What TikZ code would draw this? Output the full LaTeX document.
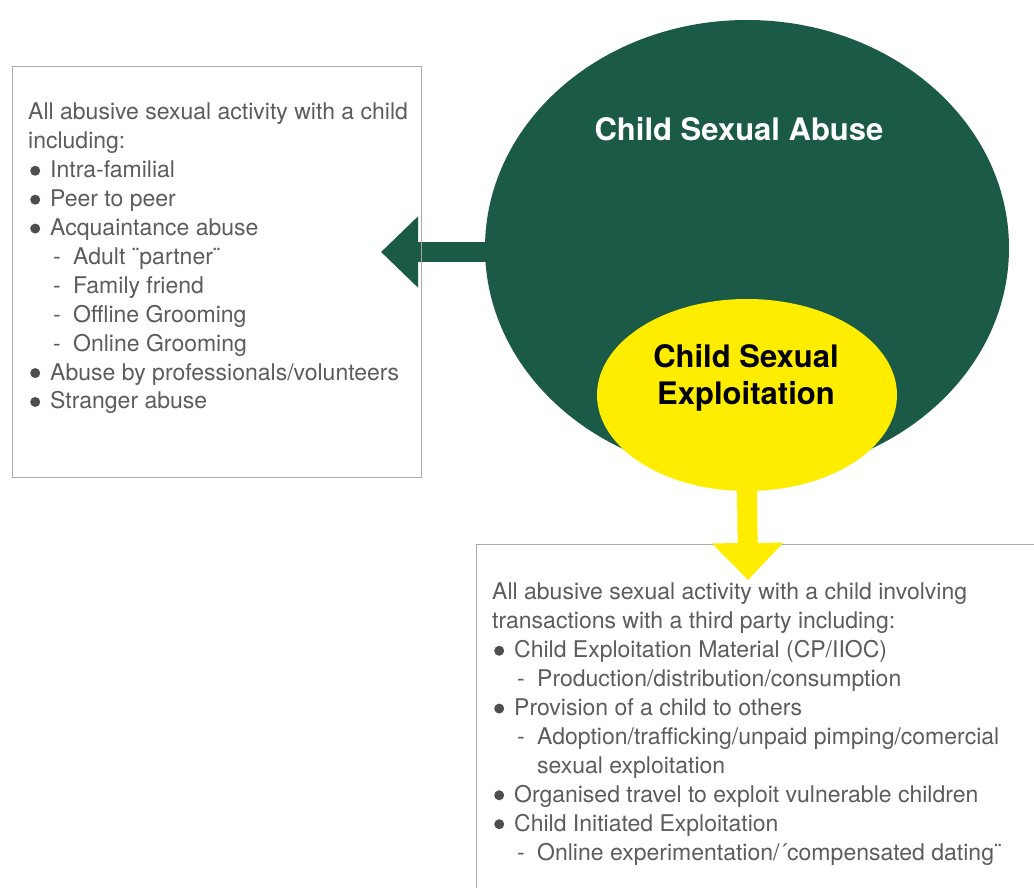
\documentclass[tikz,border=0pt]{standalone}
\usepackage{fontspec}
\setmainfont{TeX Gyre Heros}
\usepackage{xcolor}
\usetikzlibrary{arrows.meta,positioning,shapes.geometric}
\definecolor{INK}{RGB}{92,92,92}
\definecolor{RULE}{RGB}{172,168,164}
\definecolor{FOREST}{RGB}{27,90,71}
\definecolor{LEMON}{RGB}{255,237,0}
% list markers: bullet and dash with fixed indents
\newcommand{\dotitem}{\hspace*{2pt}\makebox[20pt][l]{\tikz[baseline=-7pt]\fill[INK!85!black] (0pt,0pt) circle[radius=5pt];}}
\newcommand{\dashitem}{\hspace*{25pt}\makebox[20pt][l]{-}}
\newcommand{\wrapitem}{\hspace*{45pt}}

\begin{document}
\begin{tikzpicture}[x=1pt,y=-1pt,>=Stealth,font=\fontsize{23}{28.9}\selectfont]
    \tikzset{listbox/.style={draw=RULE,line width=1pt,anchor=north west,inner sep=0pt},
      listtext/.style={INK,align=left,anchor=north west,inner sep=0pt},
      heading/.style={font=\fontsize{31}{37}\selectfont\bfseries,align=center},
      blob/.style={ellipse,inner sep=0pt},
      blockarrow/.style={line width=20pt,-{Triangle[length=37pt,width=69pt]}}}
    \useasboundingbox (0,0) rectangle (1034,888);
    % the two circles
    \node[blob,fill=FOREST,minimum width=524pt,minimum height=456pt] (abuse) at (747,248) {};
    \node[blob,fill=LEMON,minimum width=300pt,minimum height=192pt] (exploit) at (747,395) {};
    \node[heading,white] (abusetitle) at (739,129) {Child Sexual Abuse};
    \node[heading] (exploittitle) at (746,378) {Child Sexual\\Exploitation};
    \coordinate (abusetip) at (381,252);
    \coordinate (exploittip) at (748,580);
    \draw[blockarrow,FOREST] ([xshift=6pt]abuse.west |- abusetip)--(abusetip);
    % the two lists
    \node[listbox,minimum width=409pt,minimum height=411pt] (abusebox) at (12,66) {};
    \node[listbox,minimum width=600pt,minimum height=400pt] (exploitbox) at (476,544) {};
    \draw[blockarrow,LEMON] ([yshift=6pt]exploit.south)--(exploittip);
    \node[listtext] (abusetext) at (28,103) {All abusive sexual activity with a child\\
      including:\\
      \dotitem Intra-familial\\
      \dotitem Peer to peer\\
      \dotitem Acquaintance abuse\\
      \dashitem Adult ¨partner¨\\
      \dashitem Family friend\\
      \dashitem Offline Grooming\\
      \dashitem Online Grooming\\
      \dotitem Abuse by professionals/volunteers\\
      \dotitem Stranger abuse};
    \node[listtext] (exploittext) at (492,583) {All abusive sexual activity with a child involving\\
      transactions with a third party including:\\
      \dotitem Child Exploitation Material (CP/IIOC)\\
      \dashitem Production/distribution/consumption\\
      \dotitem Provision of a child to others\\
      \dashitem Adoption/trafficking/unpaid pimping/comercial\\
      \wrapitem sexual exploitation\\
      \dotitem Organised travel to exploit vulnerable children\\
      \dotitem Child Initiated Exploitation\\
      \dashitem Online experimentation/´compensated dating¨};
  \end{tikzpicture}
\end{document}
